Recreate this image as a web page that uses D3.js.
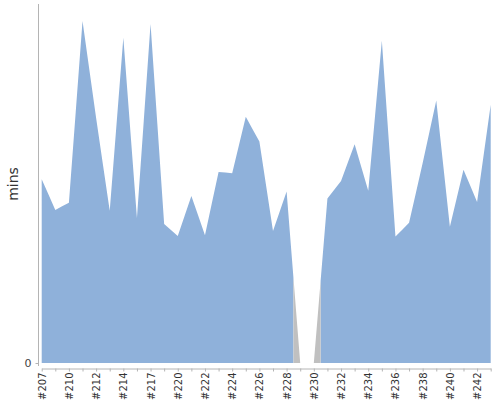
<!DOCTYPE html>
<html>
<head>
<meta charset="utf-8">
<script src="https://cdn.jsdelivr.net/npm/d3@7"></script>
<style>
  body { margin: 0; background: #fff; }
  svg { display: block; }
</style>
</head>
<body>
<div id="container"></div>
<script>
// Build numbers on the x axis
const builds = ['#207', '#208', '#210', '#211', '#212', '#213', '#214', '#215', '#217', '#218',
  '#220', '#221', '#222', '#223', '#224', '#225', '#226', '#227', '#228', '#229',
  '#230', '#231', '#232', '#233', '#234', '#235', '#236', '#237', '#238', '#239',
  '#240', '#241', '#242', '#243'];

// Build durations (mins)
const durations = [0.430, 0.358, 0.375, 0.800, 0.573, 0.356, 0.761, 0.339, 0.793, 0.325,
  0.297, 0.391, 0.299, 0.447, 0.444, 0.576, 0.518, 0.309, 0.401, 0,
  0, 0.385, 0.426, 0.512, 0.403, 0.754, 0.296, 0.328, 0.468, 0.614,
  0.319, 0.452, 0.377, 0.604];

// Build result per build
const results = ['success', 'success', 'success', 'success', 'success', 'success', 'success', 'success', 'success', 'success',
  'success', 'success', 'success', 'success', 'success', 'success', 'success', 'success', 'success', 'aborted',
  'aborted', 'success', 'success', 'success', 'success', 'success', 'success', 'success', 'success', 'success',
  'success', 'success', 'success', 'success'];

// Labelled ticks
const xTickLabels = ['#207', '#210', '#212', '#214', '#217', '#220', '#222', '#224', '#226', '#228',
  '#230', '#232', '#234', '#236', '#238', '#240', '#242'];
const yTicks = [0];

const svg = d3.select('#container').append('svg')
  .attr('width', 500)
  .attr('height', 400);

// Scales
const xScale = d3.scalePoint().domain(builds).range([41.7, 490.7]);
const yScale = d3.scaleLinear().domain([0, 0.84]).range([363, 4]);
const colorScale = d3.scaleOrdinal().domain(['success', 'aborted']).range(['#8fb1da', '#c0c0c0']);

const pts = builds.map((b, i) => ({ x: xScale(b), y: yScale(durations[i]), r: results[i] }));

// Each build owns the stretch between the midpoints to its neighbours
const area = d3.area().x(d => d[0]).y0(yScale(0)).y1(d => d[1]);
function segment(d, i) {
  const seg = [];
  if (i > 0) {
    const p = pts[i - 1];
    seg.push([(p.x + d.x) / 2, (p.y + d.y) / 2]);
  }
  seg.push([d.x, d.y]);
  if (i < pts.length - 1) {
    const n = pts[i + 1];
    seg.push([(n.x + d.x) / 2, (n.y + d.y) / 2]);
  }
  return area(seg);
}

// one path per result so touching segments show no seams
const groups = d3.groups(pts.map((d, i) => ({ d, i })), o => o.d.r);
svg.append('g').selectAll('path')
  .data(groups)
  .join('path')
  .attr('d', g => g[1].map(o => segment(o.d, o.i)).join(''))
  .attr('fill', g => colorScale(g[0]));

// Y axis
const yAxis = svg.append('g')
  .attr('transform', 'translate(38.5,0)')
  .call(d3.axisLeft(yScale).tickValues(yTicks).tickFormat(d3.format('d')).tickSize(3).tickSizeOuter(0));
yAxis.select('.domain').attr('d', 'M0,4V366').attr('stroke', '#b4b4b4');
yAxis.selectAll('.tick line').attr('stroke', '#b4b4b4');
yAxis.selectAll('.tick text')
  .attr('x', -7)
  .style('font', '11px "DejaVu Sans", sans-serif')
  .attr('fill', '#444');

// X axis
const xAxis = svg.append('g')
  .attr('transform', 'translate(0,368.5)')
  .call(d3.axisBottom(xScale).tickSize(3).tickSizeOuter(0));
xAxis.select('.domain').attr('stroke', '#b4b4b4');
xAxis.selectAll('.tick line').attr('stroke', '#b4b4b4');
xAxis.selectAll('.tick text')
  .text(d => xTickLabels.includes(d) ? d : '')
  .attr('transform', 'rotate(-90)')
  .attr('text-anchor', 'end')
  .attr('x', -4)
  .attr('y', 0)
  .attr('dy', '0.35em')
  .style('font', '10px "DejaVu Sans", sans-serif')
  .attr('fill', '#333');

// Y axis title
svg.append('text')
  .attr('transform', 'translate(18,184) rotate(-90)')
  .attr('text-anchor', 'middle')
  .style('font', '14px "DejaVu Sans", sans-serif')
  .attr('fill', '#333')
  .text('mins');
</script>
</body>
</html>
